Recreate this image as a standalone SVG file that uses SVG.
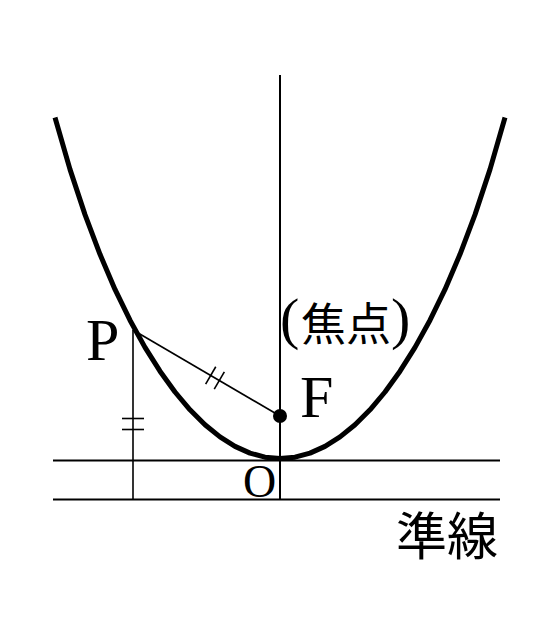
<svg xmlns="http://www.w3.org/2000/svg" width="537" height="640" viewBox="0 0 537 640">
<style>
.ln{stroke:#000;stroke-width:2;fill:none}
.thin{stroke:#000;stroke-width:1.6;fill:none}
.curve{stroke:#000;stroke-width:5;fill:none;stroke-linejoin:round;stroke-linecap:butt}
.lat{font-family:"Liberation Serif","Times New Roman",serif;fill:#000}
.cjk{font-family:"Noto Sans CJK JP",serif;fill:#000}
</style>
<rect width="537" height="640" fill="#fff"/>
<g id="connectors">
<line class="ln" x1="280" y1="75" x2="280" y2="500"/>
<line class="ln" x1="53" y1="460.5" x2="500" y2="460.5"/>
<line class="ln" x1="53" y1="499.5" x2="500" y2="499.5"/>
<line class="thin" x1="133" y1="330" x2="133" y2="500"/>
<line class="thin" x1="133" y1="330" x2="280" y2="416"/>
<line class="thin" x1="122" y1="418.5" x2="144" y2="418.5"/>
<line class="thin" x1="122" y1="429.5" x2="144" y2="429.5"/>
<line class="thin" x1="205.65" y1="384.03" x2="215.75" y2="366.77"/>
<line class="thin" x1="214.25" y1="389.13" x2="224.35" y2="371.87"/>
</g>
<g id="parabola">
<path class="curve" d="M55,117.5 L70,169.4 L85,214.6 L100,254.3 L115,289.4 L130,320.2 L145,347.4 L160,371.2 L175,392 L190,409.8 L205,424.7 L220,436.9 L235,446.4 L250,453.1 L265,457.2 L280,458.5 L295,457.2 L310,453.1 L325,446.4 L340,436.9 L355,424.7 L370,409.8 L385,392 L400,371.2 L415,347.4 L430,320.2 L445,289.4 L460,254.3 L475,214.6 L490,169.4 L505,117.5"/>
</g>
<g id="focus">
<circle cx="280" cy="416" r="7" fill="#000"/>
<text class="lat" x="300" y="417" font-size="60">F</text>
</g>
<g id="focus-label">
<text class="lat" x="280" y="338" font-size="58">(</text>
<text class="cjk" x="301" y="341" font-size="45">焦点</text>
<text class="lat" x="391" y="338" font-size="58">)</text>
</g>
<g id="point-P">
<text class="lat" x="86" y="360" font-size="60">P</text>
</g>
<g id="origin">
<text class="lat" x="243" y="497" font-size="46">O</text>
</g>
<g id="directrix-label">
<text class="cjk" x="396" y="555" font-size="51">準線</text>
</g>
</svg>
